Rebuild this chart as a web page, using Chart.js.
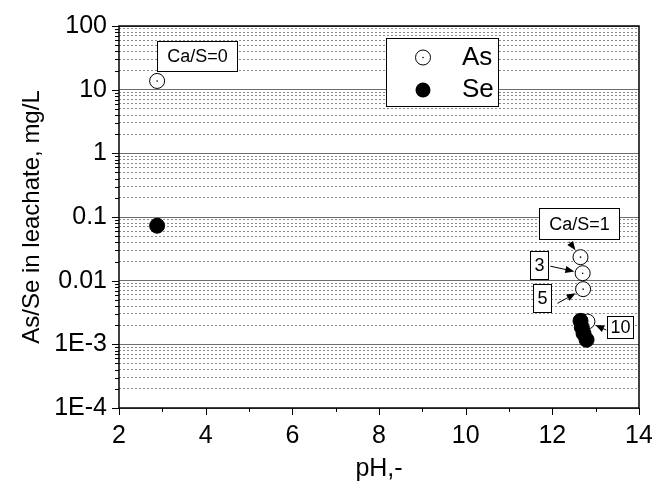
<!DOCTYPE html>
<html><head><meta charset="utf-8">
<script src="https://cdn.jsdelivr.net/npm/chart.js@4/dist/chart.umd.min.js"></script>
<style>html,body{margin:0;padding:0;background:#fff}#wrap{width:652px;height:489px}</style>
</head><body><div id="wrap"><canvas id="c" width="652" height="489"></canvas></div>
<script>
// ---- data ----
const seriesNames = ['As', 'Se'];
const asPH   = [2.88, 12.65, 12.70, 12.71, 12.81];
const asConc = [13.7, 0.0234, 0.0131, 0.00736, 0.00228];
const sePH   = [2.88, 12.65, 12.68, 12.72, 12.79];
const seConc = [0.073, 0.00234, 0.00185, 0.00148, 0.00118];
const xTickValues = [2, 4, 6, 8, 10, 12, 14];
const xTickLabels = ['2', '4', '6', '8', '10', '12', '14'];
const yTickValues = [1e-4, 1e-3, 1e-2, 0.1, 1, 10, 100];
const yTickLabels = ['1E-4', '1E-3', '0.01', '0.1', '1', '10', '100'];
const calloutTexts = ['Ca/S=0', 'Ca/S=1', '3', '5', '10'];
const xTitle = 'pH,-';
const yTitle = 'As/Se in leachate, mg/L';

// ---- layout / style config ----
const FONT = "'Liberation Sans', Arial, sans-serif";
const callouts = [
  {text: calloutTexts[0], x: 3.81, y: 34.2, w: 80, h: 30},
  {text: calloutTexts[1], x: 12.62, y: 0.0785, w: 80, h: 31, target: 1, from: [-10, 18]},
  {text: calloutTexts[2], x: 11.70, y: 0.0175, w: 18, h: 28, target: 2, from: [11, 1]},
  {text: calloutTexts[3], x: 11.75, y: 0.00528, w: 18, h: 28, target: 3, from: [16, 5]},
  {text: calloutTexts[4], x: 13.57, y: 0.0019, w: 26, h: 22, target: 4, from: [-14, 3.5]}
];

const isDecade = v => Math.abs(Math.log10(v) - Math.round(Math.log10(v))) < 1e-6;

function drawOpenMarker(ctx, x, y, r) {
  ctx.beginPath(); ctx.arc(x, y, r, 0, Math.PI * 2);
  ctx.fillStyle = '#fff'; ctx.fill();
  ctx.lineWidth = 1; ctx.strokeStyle = '#000'; ctx.stroke();
  ctx.beginPath(); ctx.arc(x, y, 0.8, 0, Math.PI * 2); ctx.fillStyle = '#000'; ctx.fill();
}

const framePlugin = {
  id: 'frame',
  beforeDatasetsDraw(chart) {
    const {ctx, chartArea: a, scales} = chart;
    ctx.save();
    ctx.strokeStyle = '#000';
    ctx.lineWidth = 1;
    ctx.beginPath();
    scales.x.ticks.forEach(t => {
      const px = Math.round(scales.x.getPixelForValue(t.value)) + 0.5;
      const len = xTickValues.includes(t.value) ? 7 : 4;
      ctx.moveTo(px, a.bottom); ctx.lineTo(px, a.bottom + len);
    });
    scales.y.ticks.forEach(t => {
      const py = Math.round(scales.y.getPixelForValue(t.value)) + 0.5;
      const len = isDecade(t.value) ? 7 : 4;
      ctx.moveTo(a.left, py); ctx.lineTo(a.left - len, py);
    });
    ctx.stroke();
    ctx.lineWidth = 1.5;
    ctx.strokeRect(a.left, a.top, a.right - a.left, a.bottom - a.top);
    ctx.restore();
  },
  afterDatasetDraw(chart, args) {
    if (args.index !== 0) return;
    const ctx = chart.ctx;
    ctx.save();
    args.meta.data.forEach(p => {
      ctx.beginPath(); ctx.arc(p.x, p.y, 0.8, 0, Math.PI * 2); ctx.fillStyle = '#000'; ctx.fill();
    });
    ctx.restore();
  },
  afterDatasetsDraw(chart) {
    const {ctx, chartArea: a, scales} = chart;
    ctx.save();
    // legend
    const lx = a.left + 267, ly = a.top + 12, lw = 112, lh = 68;
    ctx.fillStyle = '#fff'; ctx.fillRect(lx, ly, lw, lh);
    ctx.lineWidth = 1; ctx.strokeStyle = '#000';
    ctx.strokeRect(lx + 0.5, ly + 0.5, lw, lh);
    const ds = chart.data.datasets;
    drawOpenMarker(ctx, lx + 37, ly + 19.5, ds[0].pointRadius);
    ctx.beginPath(); ctx.arc(lx + 37, ly + 52, ds[1].pointRadius, 0, Math.PI * 2);
    ctx.fillStyle = ds[1].pointBackgroundColor; ctx.fill();
    ctx.font = '26px ' + FONT; ctx.fillStyle = '#000';
    ctx.textAlign = 'left'; ctx.textBaseline = 'middle';
    ctx.fillText(seriesNames[0], lx + 76, ly + 20);
    ctx.fillText(seriesNames[1], lx + 76, ly + 52);

    // callouts
    const asMeta = chart.getDatasetMeta(0);
    ctx.font = '18px ' + FONT;
    ctx.textAlign = 'center'; ctx.textBaseline = 'middle';
    callouts.forEach(c => {
      const cx = scales.x.getPixelForValue(c.x), cy = scales.y.getPixelForValue(c.y);
      if (c.target !== undefined) {
        const p = asMeta.data[c.target];
        const sx = cx + c.from[0], sy = cy + c.from[1];
        const dx = p.x - sx, dy = p.y - sy, d = Math.hypot(dx, dy);
        const ux = dx / d, uy = dy / d;
        const r = ds[0].pointRadius + 1;
        const ex = p.x - ux * r, ey = p.y - uy * r;
        ctx.strokeStyle = '#000'; ctx.lineWidth = 1;
        ctx.beginPath(); ctx.moveTo(sx, sy); ctx.lineTo(ex - ux * 6, ey - uy * 6); ctx.stroke();
        ctx.beginPath();
        ctx.moveTo(ex, ey);
        ctx.lineTo(ex - ux * 9 - uy * 3.5, ey - uy * 9 + ux * 3.5);
        ctx.lineTo(ex - ux * 9 + uy * 3.5, ey - uy * 9 - ux * 3.5);
        ctx.closePath(); ctx.fillStyle = '#000'; ctx.fill();
      }
      const bx = Math.round(cx - c.w / 2) + 0.5, by = Math.round(cy - c.h / 2) + 0.5;
      ctx.fillStyle = '#fff'; ctx.fillRect(bx, by, c.w, c.h);
      ctx.strokeStyle = '#000'; ctx.lineWidth = 1; ctx.strokeRect(bx, by, c.w, c.h);
      ctx.fillStyle = '#000';
      ctx.fillText(c.text, bx + c.w / 2, by + c.h / 2 + 1);
    });
    ctx.restore();
  }
};

new Chart(document.getElementById('c'), {
  type: 'scatter',
  data: {
    datasets: [
      {
        label: seriesNames[0],
        data: asPH.map((x, i) => ({x, y: asConc[i]})),
        pointRadius: 7.5, pointBackgroundColor: '#fff', pointBorderColor: '#000',
        pointBorderWidth: 1, order: 2
      },
      {
        label: seriesNames[1],
        data: sePH.map((x, i) => ({x, y: seConc[i]})),
        pointRadius: 7.5, pointBackgroundColor: '#000', pointBorderColor: '#000',
        pointBorderWidth: 1, order: 1
      }
    ]
  },
  options: {
    responsive: false, animation: false, devicePixelRatio: 1, events: [],
    layout: {padding: {top: 26, right: 13, left: 0, bottom: 0}},
    plugins: {legend: {display: false}, tooltip: {enabled: false}},
    scales: {
      x: {
        type: 'linear', min: 2, max: 14,
        afterBuildTicks: s => {
          const t = [];
          for (let v = 2; v <= 14; v++) t.push({value: v});
          s.ticks = t;
        },
        afterFit: s => { s.height = 81; s.paddingLeft = 0; s.paddingRight = 0; },
        ticks: {
          autoSkip: false, maxRotation: 0, padding: 13, color: '#000',
          font: {family: FONT, size: 25},
          callback: v => { const i = xTickValues.indexOf(v); return i >= 0 ? xTickLabels[i] : ''; }
        },
        grid: {drawOnChartArea: false, drawTicks: false},
        border: {display: false},
        title: {display: true, text: xTitle, color: '#000', font: {family: FONT, size: 25}, padding: {top: 0, bottom: 5}}
      },
      y: {
        type: 'logarithmic', min: 1e-4, max: 100,
        afterBuildTicks: s => {
          const t = [];
          for (let e = -4; e < 2; e++) for (let m = 1; m <= 9; m++) t.push({value: +(m * Math.pow(10, e)).toPrecision(6)});
          t.push({value: 100});
          s.ticks = t;
        },
        afterFit: s => { s.width = 119; s.paddingTop = 0; s.paddingBottom = 0; },
        ticks: {
          autoSkip: false, padding: 12, color: '#000',
          font: {family: FONT, size: 25},
          callback: v => {
            if (!isDecade(v)) return '';
            const i = yTickValues.findIndex(t => Math.abs(Math.log10(t) - Math.log10(v)) < 1e-6);
            return i >= 0 ? yTickLabels[i] : '';
          }
        },
        grid: {
          drawTicks: false,
          color: c => (c.tick && isDecade(c.tick.value)) ? '#6e6e6e' : '#8a8a8a',
          lineWidth: 1
        },
        border: {
          display: false,
          dash: c => (c.tick && !isDecade(c.tick.value)) ? [2, 2] : []
        },
        title: {display: true, text: yTitle, color: '#000', font: {family: FONT, size: 24}, padding: {top: 18, bottom: 0}}
      }
    }
  },
  plugins: [framePlugin]
});
</script>
</body></html>
